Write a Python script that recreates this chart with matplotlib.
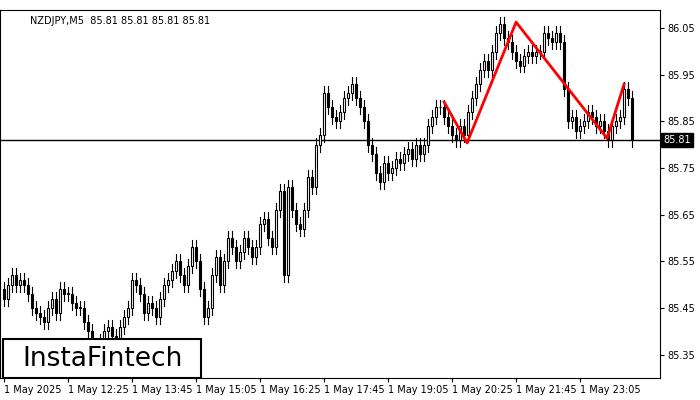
import matplotlib.pyplot as plt
from matplotlib.patches import Rectangle

closes = [
    85.47, 85.50, 85.52, 85.50, 85.51, 85.50, 85.48, 85.45,
    85.44, 85.43, 85.42, 85.45, 85.47, 85.44, 85.49, 85.48,
    85.48, 85.46, 85.45, 85.45, 85.42, 85.40, 85.37, 85.36,
    85.38, 85.40, 85.41, 85.39, 85.38, 85.41, 85.43, 85.45,
    85.51, 85.50, 85.48, 85.44, 85.46, 85.45, 85.43, 85.47,
    85.50, 85.51, 85.53, 85.55, 85.52, 85.50, 85.54, 85.58,
    85.55, 85.49, 85.43, 85.45, 85.52, 85.56, 85.50, 85.55,
    85.60, 85.58, 85.55, 85.57, 85.60, 85.58, 85.56, 85.58,
    85.63, 85.64, 85.60, 85.58, 85.66, 85.70, 85.52, 85.71,
    85.66, 85.63, 85.62, 85.66, 85.73, 85.71, 85.80, 85.82,
    85.91, 85.88, 85.86, 85.85, 85.87, 85.90, 85.91, 85.93,
    85.90, 85.88, 85.85, 85.80, 85.78, 85.74, 85.72, 85.76,
    85.74, 85.75, 85.77, 85.76, 85.78, 85.79, 85.77, 85.80,
    85.78, 85.80, 85.84, 85.86, 85.88, 85.88, 85.86, 85.84,
    85.82, 85.81, 85.84, 85.82, 85.87, 85.90, 85.93, 85.96,
    85.98, 85.96, 86.00, 86.04, 86.06, 86.03, 86.02, 86.00,
    85.98, 85.97, 85.99, 86.00, 85.99, 86.00, 86.00, 86.04,
    86.03, 86.02, 86.04, 86.02, 85.92, 85.85, 85.86, 85.83,
    85.84, 85.85, 85.87, 85.86, 85.84, 85.85, 85.83, 85.81,
    85.84, 85.85, 85.86, 85.92, 85.90, 85.81,
]
first_open = 85.49
wick = 0.015

pattern_bars = [110, 115.75, 128, 150.75, 155]
pattern_prices = [85.892, 85.804, 86.063, 85.814, 85.93]

level = 85.81
yticks = [85.35, 85.45, 85.55, 85.65, 85.75, 85.85, 85.95, 86.05]
xtick_bars = [0, 16, 32, 48, 64, 80, 96, 112, 128, 144]
xtick_labels = ["1 May 2025", "1 May 12:25", "1 May 13:45", "1 May 15:05", "1 May 16:25",
                "1 May 17:45", "1 May 19:05", "1 May 20:25", "1 May 21:45", "1 May 23:05"]

fig = plt.figure(figsize=(7, 4), dpi=100)
ax = fig.add_axes([0, 0.055, 0.943, 0.92])

opens = [first_open] + closes[:-1]
for i, (o, c) in enumerate(zip(opens, closes)):
    lo, hi = min(o, c), max(o, c)
    ax.plot([i, i], [lo - wick, hi + wick], color="black", lw=0.8, zorder=2)
    h = max(hi - lo, 0.002)
    ax.add_patch(Rectangle((i - 0.35, lo), 0.7, h, facecolor="white" if c >= o else "black",
                           edgecolor="black", lw=0.8, zorder=3))

ax.axhline(level, color="black", lw=1, zorder=1)
ax.plot(pattern_bars, pattern_prices, color="red", lw=2, zorder=4)

ax.set_xlim(-1, 164)
ax.set_ylim(85.30, 86.089)
ax.yaxis.tick_right()
ax.set_yticks(yticks)
ax.set_yticklabels([f"{v:.2f}" for v in yticks], fontsize=7)
ax.set_xticks(xtick_bars)
ax.set_xticklabels(xtick_labels, fontsize=7, ha="left")
ax.tick_params(length=3, pad=2)

ax.text(1.005, level, f"{level:.2f}", transform=ax.get_yaxis_transform(), fontsize=7,
        color="white", va="center", ha="left",
        bbox=dict(facecolor="black", edgecolor="black", pad=1.5))
ax.text(0.045, 0.985, "NZDJPY,M5  85.81 85.81 85.81 85.81", transform=ax.transAxes,
        fontsize=7, va="top", ha="left")

ax.add_patch(Rectangle((0.005, 0.0), 0.30, 0.105, transform=ax.transAxes, facecolor="white",
                       edgecolor="black", lw=1.5, zorder=5))
ax.text(0.155, 0.052, "InstaFintech", transform=ax.transAxes, fontsize=19,
        ha="center", va="center", zorder=6)

fig.savefig("out.png", dpi=100)
